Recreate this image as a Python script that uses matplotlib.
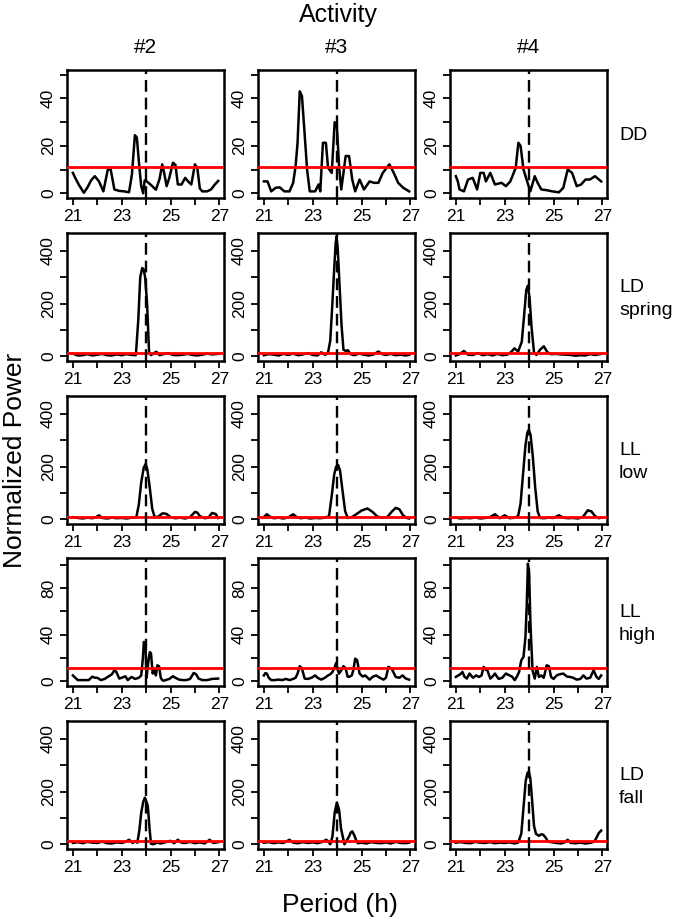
import matplotlib
matplotlib.use("Agg")
import matplotlib.pyplot as plt

plt.rcParams['font.family'] = ['Liberation Sans', 'DejaVu Sans']

# column / row labels
activities = ['#2', '#3', '#4']
conditions = ['DD', 'LD\nspring', 'LL\nlow', 'LL\nhigh', 'LD\nfall']

# significance threshold per row (red line)
thresholds = [11, 13, 10, 11, 13]

# y axis settings per row: limits, minor ticks, labelled ticks
row_ylim = [(0, 50), (0, 450), (0, 450), (0, 101.7), (0, 450)]
row_yticks = [[0, 10, 20, 30, 40, 50], [0, 100, 200, 300, 400], [0, 100, 200, 300, 400],
              [0, 20, 40, 60, 80, 100], [0, 100, 200, 300, 400]]
row_ylabels = [['0', '', '20', '', '40', ''], ['0', '', '200', '', '400'], ['0', '', '200', '', '400'],
               ['0', '', '40', '', '80', ''], ['0', '', '200', '', '400']]

# ---- DD ----
dd2_x = [21.0, 21.12, 21.25, 21.45, 21.6, 21.75, 21.9, 22.07, 22.25, 22.43, 22.55, 22.7, 22.9, 23.1, 23.3,
         23.42, 23.54, 23.62, 23.72, 23.8, 23.88, 23.94, 24.03, 24.2, 24.4, 24.55, 24.66, 24.75, 24.84, 24.95,
         25.1, 25.2, 25.3, 25.45, 25.6, 25.72, 25.85, 26.0, 26.1, 26.2, 26.3, 26.5, 26.66, 26.8, 26.95]
dd2_y = [8.6, 6.0, 3.5, 0.2, 2.5, 5.5, 7.2, 5.0, 0.8, 10.0, 10.0, 1.6, 1.0, 0.8, 0.4,
         8.0, 24.5, 23.5, 11.4, 3.0, 0.0, 5.4, 5.0, 3.5, 1.5, 6.0, 12.2, 8.0, 3.0, 6.5,
         12.9, 12.0, 3.7, 3.7, 6.5, 5.0, 3.7, 12.2, 10.5, 2.0, 0.8, 0.8, 1.6, 3.5, 5.2]
dd3_x = [21.0, 21.15, 21.3, 21.48, 21.65, 21.84, 22.05, 22.2, 22.3, 22.38, 22.47, 22.56, 22.65, 22.77, 22.88,
         23.1, 23.24, 23.31, 23.42, 23.54, 23.63, 23.78, 23.9, 23.99, 24.08, 24.17, 24.26, 24.35, 24.49, 24.62,
         24.74, 24.92, 25.1, 25.33, 25.51, 25.69, 25.87, 26.14, 26.32, 26.5, 26.71, 26.95]
dd3_y = [5.0, 5.0, 0.8, 2.3, 2.5, 0.8, 0.8, 4.4, 11.4, 21.3, 43.0, 41.0, 28.0, 10.0, 0.8,
         0.8, 3.7, 0.8, 21.3, 21.3, 10.7, 8.6, 30.0, 28.4, 11.4, 1.6, 8.6, 15.7, 15.7, 5.8,
         0.8, 5.8, 1.6, 5.0, 4.4, 4.4, 8.6, 12.2, 8.6, 4.4, 2.3, 0.8]
dd4_x = [21.0, 21.08, 21.15, 21.33, 21.5, 21.69, 21.87, 22.0, 22.14, 22.23, 22.41, 22.6, 22.87, 23.05, 23.23,
         23.45, 23.56, 23.65, 23.77, 23.92, 24.05, 24.23, 24.35, 24.5, 24.72, 24.95, 25.22, 25.4, 25.58, 25.76,
         25.95, 26.13, 26.31, 26.49, 26.7, 26.95]
dd4_y = [7.2, 5.0, 1.6, 0.8, 5.8, 6.5, 1.6, 8.6, 8.6, 5.0, 8.6, 3.7, 4.4, 3.0, 5.0,
         10.7, 21.3, 20.0, 10.0, 5.0, 0.8, 7.2, 4.4, 1.6, 1.3, 0.8, 0.4, 2.3, 10.0, 8.6,
         3.0, 3.7, 5.8, 5.8, 7.2, 5.0]

# ---- LD spring ----
lds2_x = [21.0, 21.2, 21.4, 21.6, 21.8, 22.0, 22.2, 22.4, 22.6, 22.8, 23.0, 23.2, 23.4, 23.58, 23.68,
          23.76, 23.84, 23.9, 23.96, 24.04, 24.12, 24.2, 24.32, 24.42, 24.55, 24.7, 24.9, 25.1, 25.3, 25.5,
          25.7, 25.9, 26.1, 26.3, 26.5, 26.7, 26.95]
lds2_y = [10, 3, 4, 8, 3, 6, 9, 4, 3, 7, 4, 8, 5, 4, 140,
          300, 335, 330, 300, 200, 17, 4, 12, 17, 4, 8, 12, 5, 4, 6,
          9, 5, 3, 6, 10, 7, 9]
lds3_x = [21.0, 21.2, 21.4, 21.6, 21.8, 22.0, 22.2, 22.4, 22.6, 22.8, 23.0, 23.2, 23.35, 23.5, 23.62,
          23.72, 23.8, 23.88, 23.94, 23.98, 24.03, 24.1, 24.18, 24.26, 24.35, 24.44, 24.55, 24.7, 24.9, 25.1,
          25.3, 25.5, 25.69, 25.85, 26.0, 26.2, 26.4, 26.6, 26.8, 26.95]
lds3_y = [4, 8, 6, 3, 9, 5, 10, 4, 7, 12, 5, 3, 15, 6, 10,
          60, 190, 330, 430, 455, 400, 270, 120, 25, 20, 23, 8, 4, 10, 6,
          3, 7, 18, 8, 5, 9, 4, 6, 3, 5]
lds4_x = [21.0, 21.15, 21.33, 21.5, 21.7, 21.9, 22.1, 22.3, 22.5, 22.7, 22.9, 23.1, 23.25, 23.4, 23.55,
          23.7, 23.8, 23.88, 23.95, 24.02, 24.1, 24.2, 24.3, 24.45, 24.6, 24.75, 24.9, 25.1, 25.3, 25.5,
          25.7, 25.9, 26.1, 26.3, 26.5, 26.7, 26.95]
lds4_y = [3, 8, 20, 6, 5, 12, 4, 8, 3, 9, 4, 6, 15, 30, 18,
          55, 160, 250, 268, 220, 110, 15, 5, 25, 38, 15, 8, 9, 7, 6,
          5, 2, 4, 3, 8, 5, 9]

# ---- LL low ----
lll2_x = [21.0, 21.2, 21.4, 21.6, 21.8, 21.95, 22.07, 22.2, 22.4, 22.6, 22.8, 23.0, 23.2, 23.4, 23.6,
          23.7, 23.8, 23.9, 23.98, 24.05, 24.15, 24.25, 24.35, 24.5, 24.66, 24.75, 24.84, 25.0, 25.2, 25.4,
          25.6, 25.8, 26.0, 26.1, 26.2, 26.4, 26.55, 26.7, 26.85, 26.95]
lll2_y = [8, 5, 3, 6, 4, 8, 15, 5, 3, 6, 4, 5, 3, 6, 8,
          55, 140, 195, 210, 190, 120, 40, 8, 10, 22, 22, 20, 8, 4, 6,
          3, 8, 28, 25, 12, 4, 6, 24, 20, 5]
lll3_x = [21.0, 21.12, 21.25, 21.4, 21.6, 21.8, 22.0, 22.2, 22.35, 22.5, 22.7, 22.9, 23.1, 23.3, 23.5,
          23.67, 23.78, 23.88, 23.96, 24.04, 24.12, 24.22, 24.33, 24.44, 24.6, 24.8, 25.0, 25.24, 25.45, 25.65,
          25.85, 26.05, 26.25, 26.4, 26.55, 26.7, 26.85, 26.95]
lll3_y = [8, 19, 10, 4, 6, 3, 7, 19, 8, 4, 6, 3, 5, 4, 6,
          12, 90, 170, 200, 206, 185, 110, 30, 5, 8, 20, 33, 41, 28, 10,
          6, 8, 30, 43, 38, 15, 5, 3]
lll4_x = [21.0, 21.2, 21.4, 21.6, 21.8, 22.0, 22.2, 22.4, 22.6, 22.8, 23.0, 23.2, 23.4, 23.55, 23.65,
          23.75, 23.85, 23.93, 23.99, 24.06, 24.15, 24.25, 24.35, 24.45, 24.6, 24.8, 25.0, 25.22, 25.4, 25.6,
          25.8, 26.0, 26.2, 26.4, 26.55, 26.7, 26.85, 26.95]
lll4_y = [6, 3, 5, 4, 7, 3, 5, 8, 19, 4, 15, 4, 6, 12, 60,
          170, 280, 330, 339, 320, 240, 120, 30, 5, 4, 6, 5, 15, 6, 4,
          5, 3, 8, 34, 30, 12, 4, 6]

# ---- LL high ----
llh2_x = [21.0, 21.1, 21.2, 21.35, 21.5, 21.65, 21.8, 21.9, 22.0, 22.15, 22.3, 22.45, 22.6, 22.7, 22.78,
          22.9, 23.0, 23.15, 23.25, 23.4, 23.55, 23.7, 23.8, 23.86, 23.91, 23.95, 23.98, 24.02, 24.05, 24.1,
          24.15, 24.2, 24.27, 24.34, 24.4, 24.46, 24.53, 24.6, 24.66, 24.72, 24.8, 24.95, 25.1, 25.2, 25.35,
          25.5, 25.65, 25.8, 25.95, 26.05, 26.15, 26.3, 26.5, 26.7, 26.95]
llh2_y = [5, 3, 1, 1, 1, 1, 4, 3, 3, 1, 2, 4, 6, 9.4, 8,
          2.3, 3, 4.3, 1, 3.7, 2, 3, 5, 18, 33.7, 30, 28, 3, 9.4, 18,
          25, 24, 6.6, 11, 5, 13.7, 12.9, 3, 1, 0.5, 1, 2, 4.3, 3, 1.4,
          1, 1, 2, 7.1, 6, 2.3, 1, 1, 2, 2.3]
llh3_x = [21.0, 21.06, 21.12, 21.2, 21.3, 21.45, 21.6, 21.75, 21.9, 22.05, 22.2, 22.3, 22.38, 22.47, 22.56,
          22.67, 22.8, 22.95, 23.1, 23.2, 23.35, 23.5, 23.63, 23.72, 23.81, 23.9, 23.96, 24.02, 24.08, 24.17,
          24.26, 24.35, 24.43, 24.49, 24.6, 24.67, 24.74, 24.82, 24.92, 25.05, 25.15, 25.33, 25.47, 25.6, 25.75,
          25.9, 26.0, 26.1, 26.23, 26.4, 26.55, 26.68, 26.8, 26.95]
llh3_y = [5, 7, 6.6, 3, 1, 1, 1.4, 1, 2, 1, 2, 3, 6.6, 12.9, 11,
          2.3, 2, 3, 5, 3, 1.4, 3, 5, 6, 8, 12, 15.7, 10, 6.6, 9.4,
          12.9, 11, 4, 3.7, 5, 10, 19.4, 18, 6.6, 4, 5, 1.4, 4, 5, 3,
          1.4, 3, 12.3, 11, 3.7, 3, 5, 2.5, 1.4]
llh4_x = [21.0, 21.1, 21.18, 21.27, 21.35, 21.45, 21.56, 21.7, 21.83, 21.95, 22.05, 22.14, 22.22, 22.29, 22.41,
          22.5, 22.6, 22.75, 22.9, 23.05, 23.2, 23.3, 23.41, 23.5, 23.59, 23.68, 23.77, 23.85, 23.9, 23.95,
          24.0, 24.06, 24.14, 24.23, 24.32, 24.4, 24.5, 24.6, 24.72, 24.81, 24.9, 25.0, 25.13, 25.25, 25.4,
          25.55, 25.68, 25.8, 25.95, 26.1, 26.22, 26.35, 26.5, 26.64, 26.76, 26.85, 26.95]
llh4_y = [3.7, 5, 6, 8, 4, 2.3, 6.6, 3, 5, 3.7, 5, 12.3, 10, 9.4, 2.3,
          4, 6.6, 2, 3, 6.6, 5, 4, 1, 4, 8, 18, 20.9, 38, 63.7, 100.9,
          92, 46.6, 9.4, 2.3, 12.3, 3.7, 5, 3, 13.7, 12.9, 3.7, 2, 5, 6, 6.6,
          4, 3.7, 3, 1.4, 2, 5, 2.3, 3, 9.4, 3.7, 2, 5]

# ---- LD fall ----
ldf2_x = [21.0, 21.2, 21.4, 21.6, 21.8, 22.0, 22.2, 22.4, 22.6, 22.8, 23.0, 23.15, 23.3, 23.45, 23.55,
          23.64, 23.72, 23.8, 23.88, 23.95, 24.02, 24.07, 24.14, 24.2, 24.3, 24.45, 24.6, 24.8, 25.0, 25.15,
          25.3, 25.45, 25.6, 25.8, 26.0, 26.2, 26.4, 26.6, 26.75, 26.95]
ldf2_y = [5, 8, 4, 9, 6, 5, 10, 4, 3, 7, 5, 9, 17, 5, 12,
          6, 50, 120, 160, 177, 160, 145, 60, 2, 0, 6, 3, 8, 13, 4,
          17, 6, 5, 9, 4, 7, 3, 17, 5, 8]
ldf3_x = [21.0, 21.2, 21.4, 21.6, 21.8, 22.05, 22.2, 22.4, 22.6, 22.8, 23.0, 23.2, 23.4, 23.55, 23.63,
          23.72, 23.81, 23.9, 23.99, 24.08, 24.16, 24.23, 24.3, 24.4, 24.49, 24.56, 24.62, 24.7, 24.78, 24.85,
          25.0, 25.2, 25.4, 25.6, 25.8, 26.0, 26.2, 26.4, 26.6, 26.8, 26.95]
ldf3_y = [6, 8, 4, 7, 5, 17, 6, 4, 8, 5, 7, 4, 9, 17, 12,
          0, 30, 120, 158, 132, 60, 30, 0, 15, 30, 45, 49, 35, 15, 4,
          6, 3, 8, 5, 4, 7, 3, 9, 5, 4, 6]
ldf4_x = [21.0, 21.2, 21.4, 21.6, 21.8, 22.0, 22.2, 22.4, 22.6, 22.8, 23.0, 23.2, 23.4, 23.55, 23.68,
          23.78, 23.86, 23.93, 23.99, 24.05, 24.12, 24.2, 24.28, 24.4, 24.5, 24.58, 24.68, 24.77, 24.9, 25.1,
          25.3, 25.45, 25.58, 25.7, 25.9, 26.1, 26.3, 26.5, 26.67, 26.76, 26.85, 26.95]
ldf4_y = [6, 8, 5, 4, 9, 6, 5, 8, 4, 6, 5, 7, 3, 6, 40,
          150, 240, 270, 276, 250, 170, 70, 40, 32, 38, 36, 25, 10, 8, 5,
          3, 7, 17, 5, 4, 6, 3, 5, 10, 25, 42, 52]

curves = [
    [(dd2_x, dd2_y), (dd3_x, dd3_y), (dd4_x, dd4_y)],
    [(lds2_x, lds2_y), (lds3_x, lds3_y), (lds4_x, lds4_y)],
    [(lll2_x, lll2_y), (lll3_x, lll3_y), (lll4_x, lll4_y)],
    [(llh2_x, llh2_y), (llh3_x, llh3_y), (llh4_x, llh4_y)],
    [(ldf2_x, ldf2_y), (ldf3_x, ldf3_y), (ldf4_x, ldf4_y)],
]

W, H = 675, 923
fig = plt.figure(figsize=(W / 100, H / 100), dpi=100)

col_left = [67, 258, 450]
row_top = [70, 233, 396, 558, 721]
pw, ph = 157, 128

for r in range(5):
    lo, hi = row_ylim[r]
    pad = 0.04 * (hi - lo)
    for c in range(3):
        ax = fig.add_axes([col_left[c] / W, 1 - (row_top[r] + ph) / H, pw / W, ph / H])
        x, y = curves[r][c]
        ax.plot(x, y, color='black', lw=1.8, zorder=2)
        ax.axhline(thresholds[r], color='#ff0000', lw=2, zorder=3)
        ax.axvline(24, color='black', lw=1.7, ls=(0, (5, 2.5)), zorder=4)
        ax.set_xlim(20.76, 27.19)
        ax.set_ylim(lo - pad, hi + pad)
        ax.set_xticks([21, 22, 23, 24, 25, 26, 27])
        ax.set_xticklabels(['21', '', '23', '', '25', '', '27'])
        ax.set_yticks(row_yticks[r])
        ax.set_yticklabels(row_ylabels[r], rotation=90, va='center')
        ax.tick_params(direction='out', length=5, width=1.3, labelsize=12.5, pad=3)
        for s in ax.spines.values():
            s.set_linewidth(1.8)
        if r == 0:
            ax.set_title(activities[c], fontsize=15, pad=12)
    fig.text(619 / W, 1 - (row_top[r] + ph / 2 + 2) / H, conditions[r],
             ha='left', va='center', fontsize=14, linespacing=1.4)

fig.text(338 / W, 1 - 15 / H, 'Activity', ha='center', va='center', fontsize=18)
fig.text(15 / W, 1 - 460 / H, 'Normalized Power', ha='center', va='center',
         rotation=90, fontsize=19)
fig.text(340 / W, 1 - 905 / H, 'Period (h)', ha='center', va='center', fontsize=19)

fig.savefig('out.png', dpi=100)
